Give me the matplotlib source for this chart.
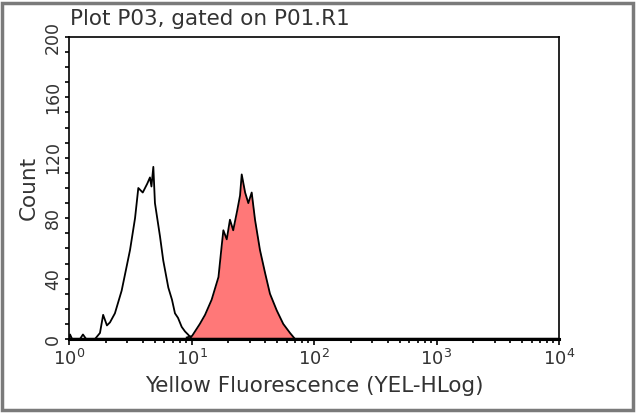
import matplotlib
matplotlib.use("Agg")
import matplotlib.pyplot as plt
from matplotlib.patches import Rectangle
from matplotlib.ticker import MultipleLocator, LogLocator, NullFormatter

# ---- data ----
unstained_x = [1.0, 1.02, 1.06, 1.23, 1.30, 1.38, 1.63, 1.79, 1.90, 2.04, 2.16, 2.37,
               2.69, 2.92, 3.15, 3.46, 3.68, 4.00, 4.36, 4.58, 4.71, 4.88, 5.03, 5.53,
               5.88, 6.47, 6.93, 7.33, 7.76, 8.32, 8.85, 9.36, 10.1]
unstained_y = [0, 3, 0, 0, 3, 0, 0, 4, 16, 9, 11, 17,
               32, 46, 59, 80, 100, 97, 103, 107, 101, 114, 90, 68,
               52, 34, 26, 17, 14, 8, 5, 3, 0]

stained_x = [9.14, 10.1, 11.7, 12.9, 14.6, 16.6, 17.6, 18.2, 19.4, 20.6, 21.9, 23.6,
             24.9, 25.7, 27.4, 29.1, 31.0, 33.0, 36.2, 39.8, 43.7, 49.6, 56.1, 63.7, 70.0]
stained_y = [1, 2, 10, 16, 26, 41, 61, 72, 66, 79, 72, 85,
             95, 109, 97, 90, 97, 79, 59, 44, 30, 19, 10, 4, 0]

title = "Plot P03, gated on P01.R1"
xlabel = "Yellow Fluorescence (YEL-HLog)"
ylabel = "Count"
x_decades = [1, 10, 100, 1000, 10000]
x_ticklabels = [r"$\mathregular{10^{0}}$", r"$\mathregular{10^{1}}$", r"$\mathregular{10^{2}}$",
                r"$\mathregular{10^{3}}$", r"$\mathregular{10^{4}}$"]
y_ticks = [0, 40, 80, 120, 160, 200]

plt.rcParams['font.family'] = ['DejaVu Sans']
txt = '#333333'

fig = plt.figure(figsize=(6.4, 4.15), dpi=100)
ax = fig.add_axes([69/640, 1-339/415, (559-69)/640, (339-37)/415])

ax.fill_between(stained_x, stained_y, 0, color='#FF7878', zorder=2, linewidth=0)
ax.plot(stained_x, stained_y, color='black', lw=1.3, zorder=3)
ax.plot(unstained_x, unstained_y, color='black', lw=1.3, zorder=3)
ax.axhline(0, color='black', lw=2.5, zorder=4)

ax.set_xscale('log')
ax.set_xlim(1, 10000)
ax.set_ylim(0, 200)

ax.set_xticks(x_decades)
ax.set_xticklabels(x_ticklabels, fontsize=13, color=txt)
ax.xaxis.set_minor_locator(LogLocator(base=10, subs=range(2, 10)))
ax.xaxis.set_minor_formatter(NullFormatter())

ax.set_yticks(y_ticks)
ax.set_yticklabels([str(v) for v in y_ticks], fontsize=12.5,
                   color=txt, rotation=90, va='center')
ax.yaxis.set_minor_locator(MultipleLocator(10))

ax.tick_params(which='both', direction='out', length=3, width=1.2, color='black', pad=2)
ax.tick_params(axis='x', which='major', length=4, pad=3)

for s in ax.spines.values():
    s.set_color('black')
    s.set_linewidth(1.2)
ax.spines['bottom'].set_linewidth(2.2)

ax.set_xlabel(xlabel, fontsize=15.5, color=txt, labelpad=5)
ax.set_ylabel(ylabel, fontsize=15.5, color=txt, labelpad=4)

fig.text(70/640, 1-19/415, title, fontsize=15.5, color=txt,
         ha='left', va='center')

fig.patches.append(Rectangle((2/640, 5/415), 631/640, 407/415, transform=fig.transFigure,
                             fill=False, edgecolor='#7a7a7a', linewidth=2.5))

fig.savefig('out.png', dpi=100)
